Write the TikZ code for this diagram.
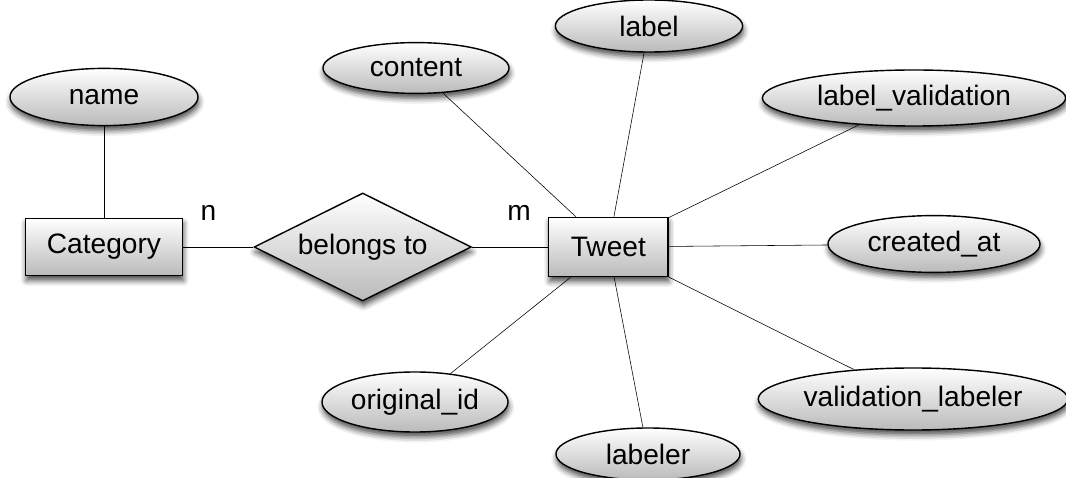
\documentclass[tikz,border=0pt]{standalone}
\usepackage{fontspec}
\setmainfont{Liberation Sans}
\usetikzlibrary{positioning,shapes.geometric,shadows.blur}
\pgfdeclarelayer{bg}
\pgfsetlayers{bg,main}
\tikzset{
	shaded box/.style = {
		draw,
		line width = 1pt,
		top color = white,
		bottom color = black!27,
		blur shadow = {shadow xshift=0.6pt, shadow yshift=-3.5pt, shadow blur radius=4pt, shadow opacity=70}
	}
}

\begin{document}
\begin{tikzpicture}[
x = 0.025cm, y = -0.025cm,
line width = 1.2pt,
every node/.style = {
	font = \fontsize{20}{24}\selectfont,
	align=center
},
entity/.style = {
	rectangle,
	shaded box,
	inner sep = 0pt
},
attribute/.style = {
	ellipse,
	shaded box,
	inner sep = 0pt
},
relation/.style = {
	diamond,
	shaded box,
	aspect = 2,
	inner sep = 0pt
}
]
\useasboundingbox (0,0) rectangle (1066,478);

\node (cat) [entity, minimum width=3.93cm, minimum height=1.43cm] at (104,247) {Category};
\node (belongs) [relation, minimum width=5.43cm, minimum height=2.7cm, right = 1.75cm of cat] {belongs to};
\node (tweet) [entity, minimum width=2.98cm, minimum height=1.48cm, right = 1.9cm of belongs] {Tweet};

% attributes
\node (name) [attribute, minimum width=4.7cm, minimum height=1.43cm] at (104,97) {name};
\node (content) [attribute, minimum width=4.65cm, minimum height=1.27cm] at (416,68) {content};
\node (label) [attribute, minimum width=4.68cm, minimum height=1.3cm] at (649,26) {label};
\node (labelval) [attribute, minimum width=7.58cm, minimum height=1.4cm] at (914,98) {label\_validation};
\node (created) [attribute, minimum width=5.3cm, minimum height=1.42cm] at (934,244) {created\_at};
\node (vallabeler) [attribute, minimum width=7.55cm, minimum height=1.55cm] at (913,399) {validation\_labeler};
\node (labeler) [attribute, minimum width=4.6cm, minimum height=1.3cm] at (648,454) {labeler};
\node (origid) [attribute, minimum width=4.65cm, minimum height=1.5cm] at (415,402) {original\_id};

\begin{pgfonlayer}{bg}
\draw (name) -- (cat);
\draw (cat) -- node[pos=0.36, yshift=0.85cm] {n} (belongs);
\draw (belongs) -- node[pos=0.62, yshift=0.85cm] {m} (tweet);
\foreach \attr in {content,label,labelval,created,vallabeler,labeler,origid}
	\draw (tweet) -- (\attr);
\end{pgfonlayer}

\end{tikzpicture}
\end{document}
